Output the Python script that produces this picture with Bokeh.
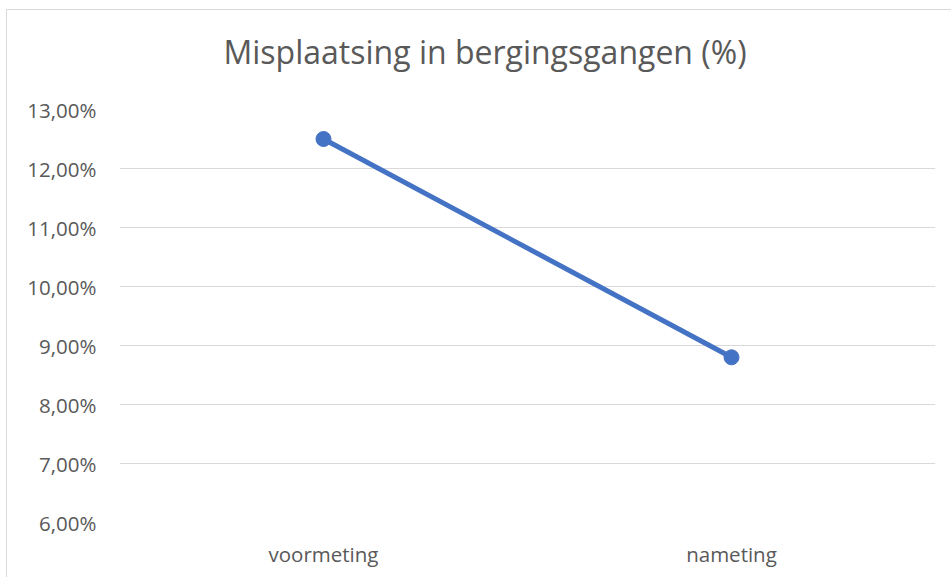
from bokeh.plotting import figure
from bokeh.models import FactorRange, Range1d, FixedTicker, Title, ColumnDataSource
from bokeh.embed import file_html
from bokeh.resources import INLINE

title_text = "Misplaatsing in bergingsgangen (%)"
categories = ["voormeting", "nameting"]
values = [12.5, 8.8]
y_ticks = [6, 7, 8, 9, 10, 11, 12, 13]
y_tick_labels = ["6,00%", "7,00%", "8,00%", "9,00%", "10,00%", "11,00%", "12,00%", "13,00%"]

FONT = "Open Sans"
TEXT = "#595959"
BLUE = "#4472C4"

src = ColumnDataSource(dict(cat=categories, val=values))

p = figure(
    x_range=FactorRange(*categories, range_padding=0),
    y_range=Range1d(6, 13),
    frame_width=816, frame_height=413,
    min_border_left=112, min_border_right=16,
    min_border_top=99, min_border_bottom=55,
    output_backend="svg", toolbar_location=None,
    background_fill_color="white", border_fill_color="white",
)
p.styles = {"border-top": "1px solid #d9d9d9", "border-left": "1px solid #d9d9d9",
            "margin-left": "6px", "margin-top": "9px"}
p.outline_line_color = None

p.line("cat", "val", source=src, line_color=BLUE, line_width=5)
p.scatter("cat", "val", source=src, size=15, fill_color=BLUE, line_color=BLUE)

p.yaxis.ticker = FixedTicker(ticks=y_ticks)
p.yaxis.major_label_overrides = {t: l for t, l in zip(y_ticks, y_tick_labels)}
for ax in (p.xaxis, p.yaxis):
    ax.axis_line_color = None
    ax.major_tick_line_color = None
    ax.minor_tick_line_color = None
    ax.major_label_text_font = FONT
    ax.major_label_text_font_size = "20.5px"
    ax.major_label_text_color = TEXT
p.yaxis.major_label_standoff = 17
p.xaxis.major_label_standoff = 11

p.xgrid.grid_line_color = None
p.ygrid.grid_line_color = "#d9d9d9"
p.ygrid.grid_line_width = 1

# spacer between title and plot area (nearest the frame)
p.add_layout(Title(text=" ", text_font_size="1px", standoff=34), "above")

p.title.text = title_text
p.title.align = "left"
p.title.offset = 104
p.title.standoff = 0
p.title.text_font = FONT
p.title.text_font_size = "32px"
p.title.text_color = TEXT
p.title.text_font_style = "normal"

open("out.html", "w").write(file_html(p, INLINE))
